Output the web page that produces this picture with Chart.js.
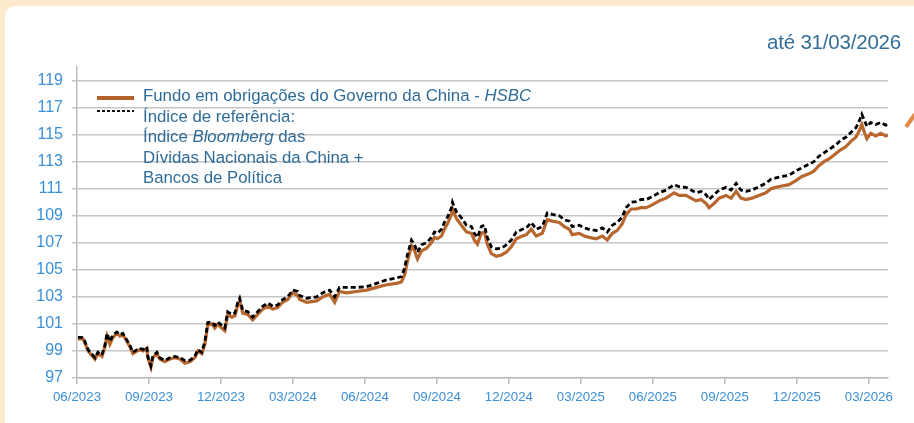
<!DOCTYPE html>
<html>
<head>
<meta charset="utf-8">
<script src="https://cdn.jsdelivr.net/npm/chart.js@4/dist/chart.umd.min.js"></script>
<style>
  html, body { margin: 0; padding: 0; }
  body { width: 914px; height: 423px; background: #fde9cc; position: relative; overflow: hidden; font-family: "Liberation Sans", Arial, sans-serif; }
  #card { position: absolute; left: 5px; top: 6px; right: 0; bottom: 0; background: #fff; border-top-left-radius: 10px; }
  #wrap { position: absolute; left: 0; top: 0; width: 914px; height: 423px; }
  #title { position: absolute; right: 13px; top: 30px; font-size: 20.5px; color: #336e9a; white-space: nowrap; letter-spacing: -0.2px; }
  #legend { position: absolute; left: 97px; top: 86px; color: #2f6b98; font-size: 16.8px; line-height: 20.5px; }
  #legend .txt { margin-left: 46px; white-space: nowrap; }
  .sw1 { position: absolute; left: 0; top: 10px; width: 37px; height: 4px; background: #b4622c; }
  .sw2 { position: absolute; left: 0; top: 24px; width: 37px; height: 2px;
         background: repeating-linear-gradient(90deg, #111 0 3px, transparent 3px 5px); }
  #deco { position: absolute; left: 906px; top: 125px; width: 16px; height: 4px; background: #e0894a;
          transform: rotate(-55deg); transform-origin: left center; border-radius: 1px; }
</style>
</head>
<body>
<div id="card"></div>
<div id="wrap"><canvas id="c" width="914" height="423"></canvas></div>
<div id="title">até 31/03/2026</div>
<div id="legend">
  <div class="sw1"></div>
  <div class="sw2"></div>
  <div class="txt">Fundo em obrigações do Governo da China - <i>HSBC</i></div>
  <div class="txt">Índice de referência:</div>
  <div class="txt">Índice <i>Bloomberg</i> das</div>
  <div class="txt">Dívidas Nacionais da China +</div>
  <div class="txt">Bancos de Política</div>
</div>
<div id="deco"></div>
<script>
// months elapsed since 06/2023
const months = [0.04,0.25,0.33,0.46,0.75,0.87,1.04,1.16,1.25,1.37,1.50,1.66,1.79,1.91,2.08,2.21,2.33,2.50,2.62,2.75,2.91,2.95,3.08,3.16,3.33,3.45,3.66,3.87,4.08,4.29,4.49,4.70,4.91,5.04,5.20,5.33,5.45,5.62,5.74,5.87,6.03,6.16,6.28,6.45,6.58,6.70,6.78,6.91,7.12,7.32,7.53,7.74,7.95,8.16,8.36,8.57,8.78,8.99,9.20,9.28,9.57,9.99,10.24,10.53,10.74,10.94,11.24,11.65,12.07,12.48,12.90,13.32,13.52,13.65,13.77,13.94,14.07,14.19,14.36,14.57,14.77,14.90,15.02,15.19,15.31,15.44,15.61,15.65,15.81,16.02,16.23,16.44,16.56,16.69,16.85,16.98,17.10,17.27,17.48,17.69,17.89,18.10,18.31,18.56,18.73,18.93,19.14,19.39,19.60,19.81,20.10,20.31,20.52,20.64,20.93,21.14,21.35,21.64,21.89,22.10,22.31,22.51,22.72,22.89,23.10,23.30,23.51,23.72,23.97,24.26,24.55,24.89,25.09,25.38,25.59,25.80,26.01,26.22,26.34,26.55,26.76,27.05,27.26,27.47,27.67,27.88,28.13,28.42,28.71,28.92,29.13,29.38,29.67,29.96,30.21,30.50,30.71,30.92,31.13,31.34,31.63,31.84,32.04,32.25,32.46,32.58,32.71,32.83,32.92,33.08,33.29,33.50,33.71,33.79];

const benchmark = [100.0,100.0,99.7,99.1,98.5,98.9,98.7,99.4,100.3,99.7,100.2,100.4,100.2,100.3,99.8,99.4,98.9,99.1,99.2,99.1,99.3,98.6,97.9,98.6,98.9,98.5,98.3,98.5,98.6,98.5,98.3,98.3,98.6,99.1,98.9,99.7,101.1,101.15,100.9,101.15,100.9,100.7,101.9,101.7,101.8,102.6,102.9,102.0,101.9,101.5,101.9,102.3,102.55,102.3,102.4,102.8,103.0,103.5,103.4,103.1,102.9,103.0,103.3,103.5,103.0,103.7,103.7,103.7,103.75,104.0,104.25,104.4,104.5,105.1,106.1,107.2,106.85,106.3,106.85,107.0,107.4,107.8,107.7,108.0,108.5,108.9,109.6,110.0,109.3,108.85,108.3,108.2,107.7,107.4,108.2,108.3,107.4,106.7,106.55,106.6,106.85,107.2,107.8,108.0,108.1,108.5,108.0,108.2,109.2,109.1,109.0,108.7,108.6,108.2,108.3,108.1,108.0,107.9,108.1,107.8,108.3,108.5,108.9,109.6,110.0,110.05,110.2,110.2,110.4,110.7,110.9,111.3,111.15,111.1,110.9,110.7,110.8,110.55,110.2,110.55,110.9,111.1,110.9,111.4,110.9,110.8,110.9,111.15,111.4,111.7,111.8,111.9,112.0,112.3,112.55,112.8,113.0,113.4,113.65,113.9,114.25,114.6,114.8,115.15,115.5,115.9,116.5,116.0,115.6,115.9,115.75,115.9,115.7,115.75];

const fund = [99.9,99.9,99.6,99.0,98.4,98.8,98.6,99.3,100.1,99.5,100.0,100.3,100.1,100.2,99.7,99.3,98.8,99.0,99.1,99.0,99.2,98.5,97.8,98.5,98.8,98.4,98.2,98.4,98.5,98.4,98.1,98.2,98.5,99.0,98.8,99.5,100.9,101.0,100.7,101.0,100.7,100.5,101.7,101.5,101.6,102.4,102.7,101.8,101.7,101.3,101.7,102.1,102.3,102.1,102.2,102.6,102.8,103.3,103.1,102.8,102.6,102.7,103.0,103.2,102.6,103.4,103.3,103.4,103.5,103.7,103.9,104.0,104.1,104.6,105.6,106.8,106.4,105.8,106.4,106.6,107.0,107.4,107.3,107.5,108.0,108.4,109.1,109.5,108.8,108.3,107.8,107.7,107.2,106.9,107.7,107.8,106.9,106.2,106.0,106.1,106.3,106.7,107.3,107.5,107.6,108.0,107.5,107.7,108.7,108.6,108.5,108.2,108.0,107.6,107.7,107.5,107.4,107.3,107.5,107.2,107.7,107.9,108.4,109.1,109.5,109.5,109.6,109.6,109.8,110.1,110.3,110.7,110.5,110.5,110.3,110.1,110.2,109.9,109.6,109.9,110.3,110.5,110.3,110.8,110.3,110.2,110.3,110.5,110.7,111.0,111.1,111.2,111.3,111.6,111.9,112.1,112.3,112.7,113.0,113.2,113.6,113.9,114.1,114.5,114.8,115.2,115.75,115.1,114.7,115.1,114.9,115.1,114.9,115.0];

const xTickMonths = [0,3,6,9,12,15,18,21,24,27,30,33];
const xTickLabels = ["06/2023","09/2023","12/2023","03/2024","06/2024","09/2024","12/2024","03/2025","06/2025","09/2025","12/2025","03/2026"];
const yTickValues = [97,99,101,103,105,107,109,111,113,115,117,119];

const toXY = (arr) => arr.map((v, i) => ({ x: months[i], y: v }));

new Chart(document.getElementById('c'), {
  type: 'line',
  data: {
    datasets: [
      { label: 'Índice de referência', data: toXY(benchmark), borderColor: '#000', borderWidth: 2.8,
        borderDash: [5, 3], pointRadius: 0, tension: 0, order: 0 },
      { label: 'Fundo', data: toXY(fund), borderColor: '#b8672f', borderWidth: 3.2,
        pointRadius: 0, tension: 0, order: 1 }
    ]
  },
  options: {
    responsive: false,
    animation: false,
    layout: { padding: { left: 0, top: 67, right: 26, bottom: 0 } },
    plugins: { legend: { display: false }, tooltip: { enabled: false } },
    scales: {
      x: {
        type: 'linear', min: 0, max: 33.8,
        afterBuildTicks: (s) => { s.ticks = xTickMonths.map(v => ({ value: v })); },
        afterFit: (s) => { s.height = 45; },
        grid: { drawOnChartArea: false, drawTicks: true, tickLength: 6, color: '#bdbdbd', lineWidth: 1.5 },
        border: { display: true, color: '#bdbdbd', width: 1.5 },
        ticks: {
          autoSkip: false, maxRotation: 0, padding: 5,
          color: '#3a90d8', font: { family: 'Liberation Sans', size: 13.3 },
          callback: (v) => { const i = xTickMonths.indexOf(v); return i >= 0 ? xTickLabels[i] : ''; }
        }
      },
      y: {
        min: 97, max: 120,
        afterBuildTicks: (s) => { s.ticks = yTickValues.map(v => ({ value: v })); },
        afterFit: (s) => { s.width = 77; },
        grid: { color: '#c6c6c6', lineWidth: 1.5, tickLength: 5 },
        border: { display: true, color: '#bdbdbd', width: 1.5 },
        ticks: { padding: 9, color: '#3a90d8', font: { family: 'Liberation Sans', size: 16 } }
      }
    }
  }
});
</script>
</body>
</html>
